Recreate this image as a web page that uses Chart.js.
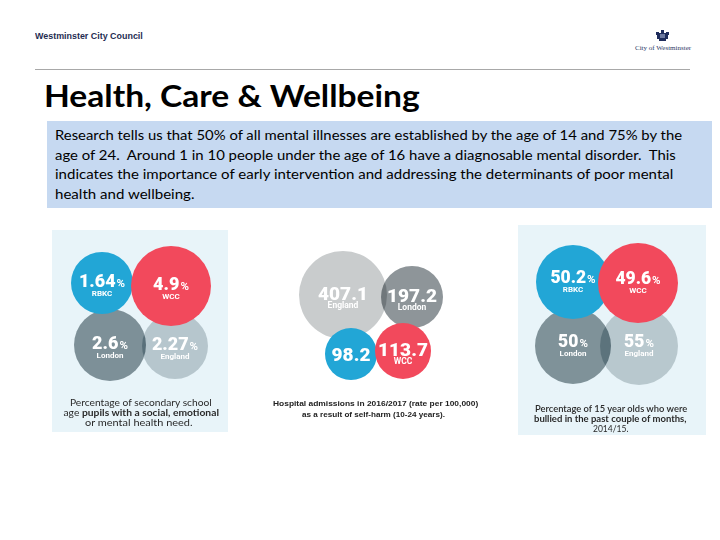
<!DOCTYPE html>
<html><head><meta charset="utf-8">
<script src="https://cdn.jsdelivr.net/npm/chart.js@4.4.1/dist/chart.umd.min.js"></script>
<style>
html,body{margin:0;padding:0;background:#fff;width:720px;height:540px;overflow:hidden;position:relative}
canvas{position:absolute;display:block}
.box{position:absolute}
</style></head><body>
<div class="box" style="left:35px;top:69px;width:655px;height:1px;background:#a8a8a8"></div>
<div class="box" style="left:47px;top:121px;width:665px;height:87px;background:#c6d9f1"></div>
<div class="box" style="left:52px;top:230px;width:176px;height:202px;background:#e8f4f9"></div>
<div class="box" style="left:518px;top:225px;width:188px;height:210px;background:#e8f4f9"></div>
<svg class="box" style="left:656px;top:30px" width="13" height="11" viewBox="0 0 13 11">
  <g fill="#1f2d5c">
    <rect x="1" y="3" width="11" height="6"/>
    <rect x="0" y="2" width="3" height="3"/>
    <rect x="10" y="2" width="3" height="3"/>
    <rect x="5" y="0" width="3" height="3"/>
    <rect x="3" y="9" width="7" height="2"/>
  </g>
  <rect x="4" y="4" width="5" height="4" fill="#6d7aa0"/>
</svg>
<canvas id="c1" width="176" height="202" style="left:52px;top:230px"></canvas>
<canvas id="c2" width="170" height="150" style="left:290px;top:240px"></canvas>
<canvas id="c3" width="188" height="210" style="left:518px;top:225px"></canvas>
<script>
// ---------------- data ----------------
const panel1Categories = ['London', 'England', 'RBKC', 'WCC'];
const panel1Labels     = ['London', 'England', 'RBKC', 'WCC'];
const panel1Values     = [2.6, 2.27, 1.64, 4.9];
const panel1Unit       = '%';

const panel2Categories = ['England', 'London', 'RBKC', 'WCC'];
const panel2Labels     = ['England', 'London', '', 'WCC'];
const panel2Values     = [407.1, 197.2, 98.2, 113.7];
const panel2Unit       = '';

const panel3Categories = ['London', 'England', 'RBKC', 'WCC'];
const panel3Labels     = ['London', 'England', 'RBKC', 'WCC'];
const panel3Values     = [50, 55, 50.2, 49.6];
const panel3Unit       = '%';

// ---------------- layout (bubble placement in panel units, radius px) ----------------
const layout1 = {w:176, h:202, place:{London:[58,115,36], England:[123,116,33], RBKC:[50,53,31], WCC:[119,56,40]}};
const layout2 = {w:170, h:150, place:{England:[53,55,44], London:[122,57,31], RBKC:[61,114,26], WCC:[113,111,28]}};
const layout3 = {w:188, h:210, place:{London:[55,121,38], England:[121,121,39], RBKC:[55,57,37], WCC:[120,58,40]}};

// ---------------- styles ----------------
const colors1 = {London:'#7d9098', England:'#b6c6cd', RBKC:'#22a6d6', WCC:'#f2495c'};
const colors2 = {London:'#8e9599', England:'#c9cccd', RBKC:'#22a6d6', WCC:'#f2495c'};
const colors3 = {London:'#7f9299', England:'#b8c8ce', RBKC:'#22a6d6', WCC:'#f2495c'};
const text1 = {valueSize:18, unitSize:11.5, labelSize:8, valueDy:4, labelDy:13, noLabelDy:6};
const text2 = {valueSize:19, unitSize:11, labelSize:8.5, valueDy:5, labelDy:13, noLabelDy:7};
const text3 = {valueSize:17.5, unitSize:11.5, labelSize:8, valueDy:1, labelDy:10, noLabelDy:6};
const GREYS = ['London', 'England'];

function textPlugin(unit, s) {
  return {
    id: 'bubbleText',
    beforeDatasetDraw(chart, args) {
      if (chart.data.datasets[args.index].blend) {
        chart.ctx.save();
        chart.ctx.globalCompositeOperation = 'multiply';
      }
    },
    afterDatasetDraw(chart, args) {
      if (chart.data.datasets[args.index].blend) chart.ctx.restore();
    },
    afterDatasetsDraw(chart) {
      const ctx = chart.ctx;
      ctx.save();
      ctx.fillStyle = '#ffffff';
      ctx.textBaseline = 'alphabetic';
      chart.data.datasets.forEach((ds, di) => {
        chart.getDatasetMeta(di).data.forEach((el, j) => {
          const p = ds.data[j];
          const vs = String(p.v);
          const vf = '900 ' + s.valueSize + 'px Roboto, "Open Sans", sans-serif';
          const uf = 'bold ' + s.unitSize + 'px Roboto, "Open Sans", sans-serif';
          ctx.font = vf;
          const w1 = ctx.measureText(vs).width;
          ctx.font = uf;
          const w2 = unit ? ctx.measureText(unit).width + 1 : 0;
          const x0 = el.x - (w1 + w2) / 2;
          const y0 = el.y + (p.label ? s.valueDy : s.noLabelDy);
          ctx.textAlign = 'left';
          ctx.font = vf;
          ctx.fillText(vs, x0, y0);
          if (unit) { ctx.font = uf; ctx.fillText(unit, x0 + w1 + 1, y0); }
          if (p.label) {
            ctx.textAlign = 'center';
            ctx.font = 'bold ' + s.labelSize + 'px Roboto, "Open Sans", sans-serif';
            ctx.fillText(p.label, el.x, el.y + s.labelDy);
          }
        });
      });
      ctx.restore();
    }
  };
}

function bubbleChart(id, cats, labels, values, unit, lay, colors, txt) {
  const idx = cats.map((c, i) => i);
  const grey = idx.filter(i => GREYS.includes(cats[i]));
  const bright = idx.filter(i => !GREYS.includes(cats[i]));
  const pts = list => list.map(i => ({
    x: lay.place[cats[i]][0], y: lay.place[cats[i]][1], r: lay.place[cats[i]][2],
    v: values[i], label: labels[i]
  }));
  const ds = (list, blend) => ({
    data: pts(list), backgroundColor: list.map(i => colors[cats[i]]),
    borderWidth: 0, hoverBorderWidth: 0, hoverRadius: 0, clip: false, blend: blend
  });
  const chart = new Chart(document.getElementById(id), {
    type: 'bubble',
    data: { datasets: [ds(bright, false), ds(grey, true)] },
    options: {
      responsive: false, animation: false, devicePixelRatio: 1, events: [],
      layout: { padding: 0 },
      scales: {
        x: { type: 'linear', min: 0, max: lay.w, display: false },
        y: { type: 'linear', min: 0, max: lay.h, reverse: true, display: false }
      },
      plugins: { legend: { display: false }, tooltip: { enabled: false } }
    },
    plugins: [textPlugin(unit, txt)]
  });
  // bubble charts inset the plot area by the largest radius: align panel units with the canvas
  const a = chart.chartArea;
  chart.options.scales.x.min = a.left;
  chart.options.scales.x.max = a.right;
  chart.options.scales.y.min = a.top;
  chart.options.scales.y.max = a.bottom;
  chart.update();
  return chart;
}

bubbleChart('c1', panel1Categories, panel1Labels, panel1Values, panel1Unit, layout1, colors1, text1);
bubbleChart('c2', panel2Categories, panel2Labels, panel2Values, panel2Unit, layout2, colors2, text2);
bubbleChart('c3', panel3Categories, panel3Labels, panel3Values, panel3Unit, layout3, colors3, text3);

// ---------------- text ----------------
function place(html, o) {
  const d = document.createElement('div');
  d.style.cssText = 'position:absolute;white-space:nowrap;line-height:1;left:0;top:0;' +
    'font-weight:' + (o.weight || 'normal') + ';font-size:' + o.size + 'px;font-family:' + o.family +
    ';color:' + (o.color || '#000');
  d.innerHTML = html + '<span style="display:inline-block;width:0;height:0;vertical-align:baseline"></span>';
  document.body.appendChild(d);
  const mk = d.lastChild;
  const base = mk.offsetTop;
  const w = mk.offsetLeft;
  const s = o.width ? o.width / w : 1;
  if (o.cx !== undefined) {
    d.style.left = (o.cx - w / 2) + 'px';
    d.style.transformOrigin = (w / 2) + 'px 0';
  } else {
    d.style.left = o.x + 'px';
    d.style.transformOrigin = '0 0';
  }
  d.style.top = (o.base - base) + 'px';
  d.style.transform = 'scaleX(' + s + ')';
}
const SANS = '"Liberation Sans", Arial, sans-serif';
const BODY = 'Lato, "Open Sans", sans-serif';
const CAP = 'Lato, "Open Sans", sans-serif';
place('Westminster City Council', {x:35, base:39, size:8.5, weight:'bold', family:SANS, color:'#1f2d52', width:108});
place('City of Westminster', {x:635, base:50, size:7, family:'"Liberation Serif", serif', color:'#2c3a66', width:56});
place('Health, Care &amp; Wellbeing', {x:44, base:107, size:30, weight:'bold', family:BODY, color:'#000', width:376});
place('Research tells us that 50% of all mental illnesses are established by the age of 14 and 75% by the', {x:55, base:140, size:13, family:BODY, color:'#000', width:627});
place('age of 24.&nbsp; Around 1 in 10 people under the age of 16 have a diagnosable mental disorder.&nbsp; This', {x:55, base:159.5, size:13, family:BODY, color:'#000', width:621});
place('indicates the importance of early intervention and addressing the determinants of poor mental', {x:55, base:179, size:13, family:BODY, color:'#000', width:618});
place('health and wellbeing.', {x:55, base:198.5, size:13, family:BODY, color:'#000', width:139});

place('Percentage of secondary school', {cx:141, base:406, size:8.5, family:CAP, color:'#2a2a2a', width:142});
place('age <b>pupils with a social, emotional</b>', {cx:140.5, base:416, size:8.5, family:CAP, color:'#2a2a2a', width:155});
place('or mental health need.', {cx:138.5, base:426, size:8.5, family:CAP, color:'#2a2a2a', width:107});

place('Hospital admissions in 2016/2017 (rate per 100,000)', {cx:375.5, base:406, size:8, weight:'bold', family:SANS, color:'#222', width:205});
place('as a result of self-harm (10-24 years).', {cx:373.5, base:417, size:8, weight:'bold', family:SANS, color:'#222', width:143});

place('Percentage of 15 year olds who were', {cx:611, base:412, size:8.5, weight:'600', family:CAP, color:'#2a2a2a', width:152});
place('bullied in the past couple of months,', {cx:610.5, base:422, size:8.5, weight:'bold', family:CAP, color:'#2a2a2a', width:153});
place('2014/15.', {cx:610.5, base:432, size:8.5, family:CAP, color:'#2a2a2a', width:35});
</script>
</body></html>
